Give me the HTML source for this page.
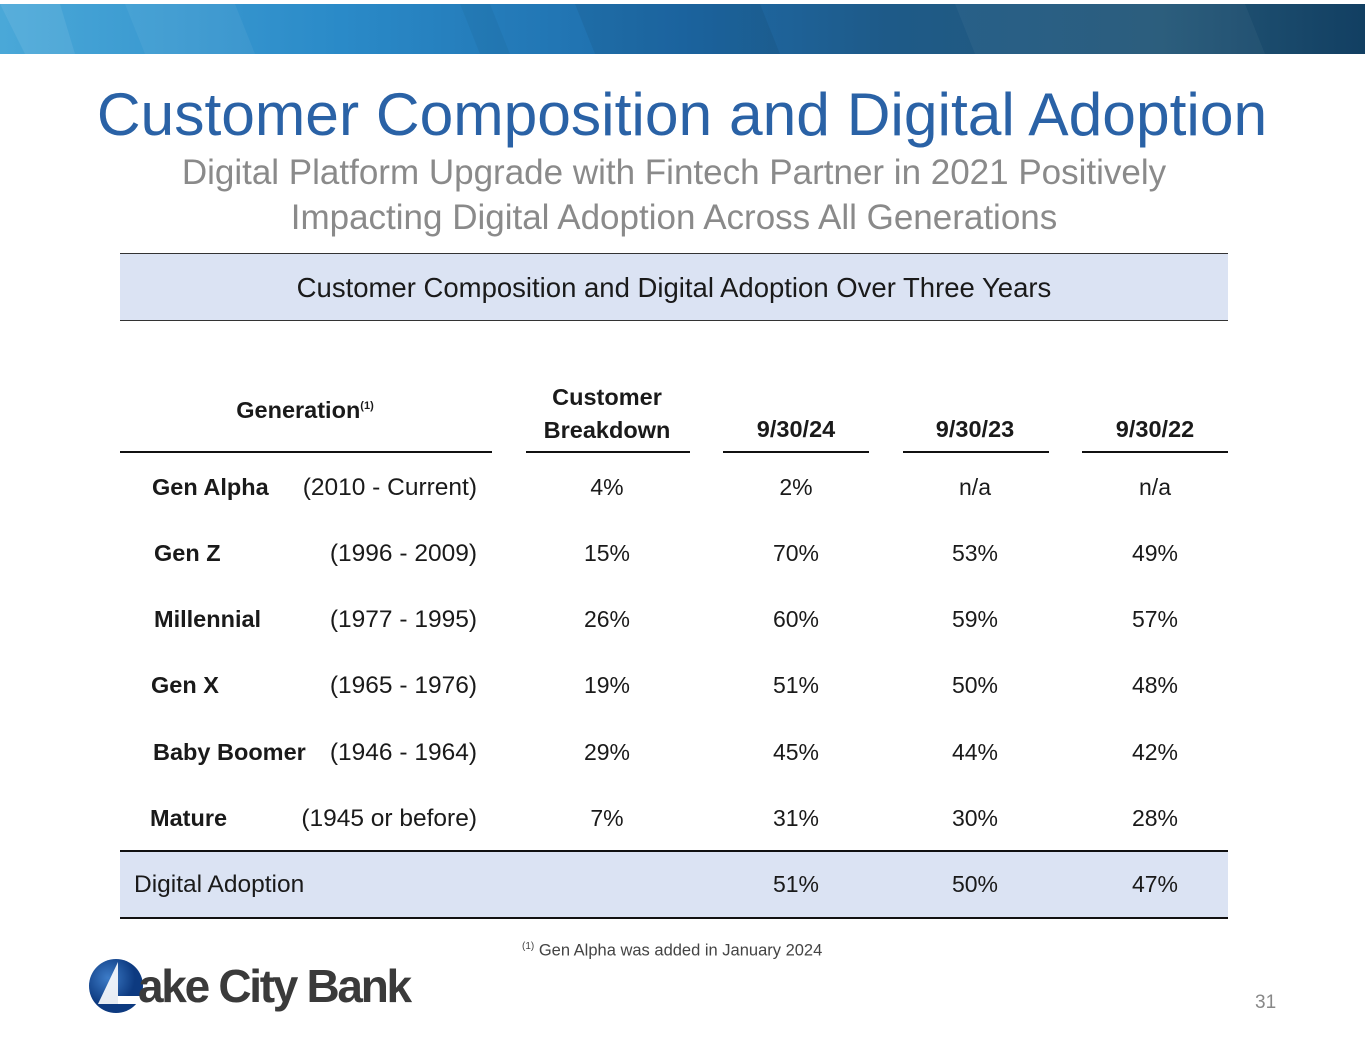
<!DOCTYPE html>
<html><head><meta charset="utf-8"><style>
body{margin:0;width:1365px;height:1055px;background:#fff;position:relative;overflow:hidden;font-family:"Liberation Sans",Arial,sans-serif}
.a{position:absolute;white-space:nowrap}
.c{transform:translateX(-50%)}
.t{font-size:23px;color:#1a1a1a}
.p{font-size:24.5px}
.b{font-weight:bold;font-size:23.5px}
.line{position:absolute;background:#111}
</style></head><body>
<div class="a" style="left:0;top:4px;width:1365px;height:50px;background:linear-gradient(90deg,#4aa8d8 0%,#2a8ac8 25%,#1d6aa8 50%,#1e5a88 65%,#245878 85%,#123f62 100%)"></div>
<svg class="a" style="left:0;top:4px" width="1365" height="50">
<polygon points="0,0 60,0 75,50 25,50" fill="#fff" opacity="0.08"/>
<polygon points="125,0 235,0 255,50 145,50" fill="#fff" opacity="0.05"/>
<polygon points="460,0 490,0 510,50 480,50" fill="#000" opacity="0.04"/>
<polygon points="575,0 760,0 780,50 595,50" fill="#000" opacity="0.06"/>
<polygon points="955,0 1245,0 1265,50 975,50" fill="#fff" opacity="0.04"/>
</svg>
<div class="a c" style="left:682px;top:79px;font-size:60.5px;color:#2a62a6">Customer Composition and Digital Adoption</div>
<div class="a c" style="left:674px;top:153px;font-size:35px;color:#8a8a8a">Digital Platform Upgrade with Fintech Partner in 2021 Positively</div>
<div class="a c" style="left:674px;top:198px;font-size:35px;color:#8a8a8a">Impacting Digital Adoption Across All Generations</div>
<div class="a" style="left:120px;top:253px;width:1108px;height:66px;background:#dbe3f3;border-top:1px solid #333;border-bottom:1px solid #333"></div>
<div class="a c t" style="left:674px;top:272px;font-size:27.5px">Customer Composition and Digital Adoption Over Three Years</div>
<div class="a c t b" style="left:305px;top:397px">Generation<sup style="font-size:11px">(1)</sup></div>
<div class="a c t b" style="left:607px;top:381px;text-align:center;line-height:33px">Customer<br>Breakdown</div>
<div class="a c t b" style="left:796px;top:416px">9/30/24</div>
<div class="a c t b" style="left:975px;top:416px">9/30/23</div>
<div class="a c t b" style="left:1155px;top:416px">9/30/22</div>
<div class="line" style="left:120px;top:451px;width:372px;height:2px"></div>
<div class="line" style="left:526px;top:451px;width:164px;height:2px"></div>
<div class="line" style="left:723px;top:451px;width:146px;height:2px"></div>
<div class="line" style="left:903px;top:451px;width:146px;height:2px"></div>
<div class="line" style="left:1082px;top:451px;width:146px;height:2px"></div>

<div class="a t b" style="left:152px;top:474px">Gen Alpha</div><div class="a t p" style="right:888px;top:474px">(2010 - Current)</div>
<div class="a t b" style="left:154px;top:540px">Gen Z</div><div class="a t p" style="right:888px;top:540px">(1996 - 2009)</div>
<div class="a t b" style="left:154px;top:606px">Millennial</div><div class="a t p" style="right:888px;top:606px">(1977 - 1995)</div>
<div class="a t b" style="left:151px;top:672px">Gen X</div><div class="a t p" style="right:888px;top:672px">(1965 - 1976)</div>
<div class="a t b" style="left:153px;top:739px">Baby Boomer</div><div class="a t p" style="right:888px;top:739px">(1946 - 1964)</div>
<div class="a t b" style="left:150px;top:805px">Mature</div><div class="a t p" style="right:888px;top:805px">(1945 or before)</div>

<div class="a c t" style="left:607px;top:474px">4%</div><div class="a c t" style="left:796px;top:474px">2%</div><div class="a c t" style="left:975px;top:474px">n/a</div><div class="a c t" style="left:1155px;top:474px">n/a</div>
<div class="a c t" style="left:607px;top:540px">15%</div><div class="a c t" style="left:796px;top:540px">70%</div><div class="a c t" style="left:975px;top:540px">53%</div><div class="a c t" style="left:1155px;top:540px">49%</div>
<div class="a c t" style="left:607px;top:606px">26%</div><div class="a c t" style="left:796px;top:606px">60%</div><div class="a c t" style="left:975px;top:606px">59%</div><div class="a c t" style="left:1155px;top:606px">57%</div>
<div class="a c t" style="left:607px;top:672px">19%</div><div class="a c t" style="left:796px;top:672px">51%</div><div class="a c t" style="left:975px;top:672px">50%</div><div class="a c t" style="left:1155px;top:672px">48%</div>
<div class="a c t" style="left:607px;top:739px">29%</div><div class="a c t" style="left:796px;top:739px">45%</div><div class="a c t" style="left:975px;top:739px">44%</div><div class="a c t" style="left:1155px;top:739px">42%</div>
<div class="a c t" style="left:607px;top:805px">7%</div><div class="a c t" style="left:796px;top:805px">31%</div><div class="a c t" style="left:975px;top:805px">30%</div><div class="a c t" style="left:1155px;top:805px">28%</div>

<div class="a" style="left:120px;top:850px;width:1108px;height:65px;background:#dbe3f3;border-top:2px solid #111;border-bottom:2px solid #111"></div>
<div class="a t p" style="left:134px;top:871px">Digital Adoption</div>
<div class="a c t" style="left:796px;top:871px">51%</div><div class="a c t" style="left:975px;top:871px">50%</div><div class="a c t" style="left:1155px;top:871px">47%</div>

<div class="a" style="left:522px;top:941px;font-size:16.5px;color:#444"><sup style="font-size:10px">(1)</sup> Gen Alpha was added in January 2024</div>

<svg class="a" style="left:88px;top:956px" width="60" height="60">
<defs><radialGradient id="g" cx="35%" cy="35%"><stop offset="0" stop-color="#3d7cc8"/><stop offset="1" stop-color="#0d3a80"/></radialGradient></defs>
<circle cx="28" cy="30" r="27" fill="url(#g)"/>
<polygon points="10,48 30,6 30,48" fill="#fff" opacity="0.9"/>
<rect x="30" y="40" width="26" height="8" fill="#fff"/>
</svg>
<div class="a" style="left:138px;top:959px;font-size:46px;font-weight:bold;color:#3a3a3a;letter-spacing:-2.3px">ake City Bank</div>
<div class="a" style="left:1255px;top:992px;font-size:19px;color:#888">31</div>
</body></html>
